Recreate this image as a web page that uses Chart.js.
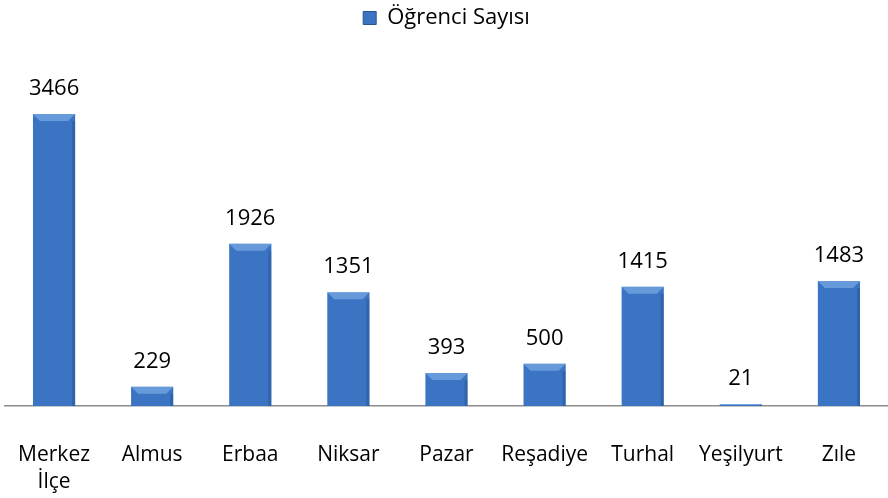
<!DOCTYPE html>
<html>
<head>
<meta charset="utf-8">
<script src="https://cdn.jsdelivr.net/npm/chart.js@4"></script>
<style>
  html, body { margin: 0; padding: 0; background: #fff; }
  #wrap { width: 888px; height: 498px; }
</style>
</head>
<body>
<div id="wrap"><canvas id="c" width="888" height="498"></canvas></div>
<script>
// veriler
const categories = [['Merkez', 'İlçe'], 'Almus', 'Erbaa', 'Niksar', 'Pazar', 'Reşadiye', 'Turhal', 'Yeşilyurt', 'Zıle'];
const ogrenciSayisi = [3466, 229, 1926, 1351, 393, 500, 1415, 21, 1483];
const seriesName = 'Öğrenci Sayısı';

const FONT = "'Open Sans', 'Liberation Sans', sans-serif";

/**
 * Sütun için yatay gradyan
 */
function barGradient(ctx) {
    const el = ctx.element;
    const chart = ctx.chart;
    if (!el || !chart.chartArea || !isFinite(el.x) || !isFinite(el.width)) return '#3a74c2';
    const w = el.width;
    const g = chart.ctx.createLinearGradient(el.x - w / 2, 0, el.x + w / 2, 0);
    g.addColorStop(0, '#2b5797');
    g.addColorStop(0.45, '#3d7acb');
    g.addColorStop(0.6, '#3b78c8');
    g.addColorStop(1, '#2a5493');
    return g;
}

// değer etiketleri
const valueLabels = {
    id: 'valueLabels',
    afterDatasetsDraw(chart) {
        const ctx = chart.ctx;
        const meta = chart.getDatasetMeta(0);
        ctx.save();
        ctx.font = '22px ' + FONT;
        ctx.fillStyle = '#000';
        ctx.textAlign = 'center';
        ctx.textBaseline = 'middle';
        meta.data.forEach((bar, i) => {
            ctx.fillText(String(ogrenciSayisi[i]), bar.x, bar.y - 25);
        });
        ctx.restore();
    }
};

// üst kenar kabartması
const bevel = {
    id: 'bevel',
    afterDatasetsDraw(chart) {
        const ctx = chart.ctx;
        const meta = chart.getDatasetMeta(0);
        ctx.save();
        meta.data.forEach(bar => {
            const l = bar.x - bar.width / 2, r = bar.x + bar.width / 2;
            const t = bar.y, h = bar.base - bar.y;
            const d = Math.min(7, h / 2);
            ctx.fillStyle = 'rgba(140,185,240,0.55)';
            ctx.beginPath();
            ctx.moveTo(l, t); ctx.lineTo(r, t); ctx.lineTo(r - d, t + d); ctx.lineTo(l + d, t + d);
            ctx.closePath(); ctx.fill();
            ctx.fillStyle = 'rgba(20,50,100,0.25)';
            ctx.fillRect(r - 3, t + d, 3, h - d);
        });
        ctx.restore();
    }
};

new Chart(document.getElementById('c'), {
    type: 'bar',
    data: {
        labels: categories,
        datasets: [{
            label: seriesName,
            data: ogrenciSayisi,
            backgroundColor: barGradient,
            borderWidth: 0,
            barPercentage: 0.43,
            categoryPercentage: 1
        }]
    },
    options: {
        responsive: false,
        animation: false,
        layout: { padding: { left: 5, right: 0, top: 0, bottom: 0 } },
        plugins: {
            legend: {
                position: 'top',
                labels: {
                    font: { family: FONT, size: 22 },
                    color: '#000',
                    boxWidth: 13,
                    boxHeight: 13,
                    padding: 7,
                    generateLabels() {
                        return [{ text: seriesName, fillStyle: '#3a74c2', strokeStyle: '#2a5493', lineWidth: 1, datasetIndex: 0 }];
                    }
                }
            },
            tooltip: { enabled: false }
        },
        scales: {
            y: {
                display: false,
                min: 0,
                max: 4355
            },
            x: {
                grid: { display: false, drawTicks: false },
                border: { display: true, color: '#8c8c8c', width: 1.5 },
                ticks: {
                    font: { family: FONT, size: 21, lineHeight: 1.3 },
                    color: '#000',
                    padding: 35,
                    maxRotation: 0,
                    autoSkip: false
                },
                afterFit(scale) {
                    scale.height = 92;
                    scale.paddingLeft = 0;
                    scale.paddingRight = 0;
                }
            }
        }
    },
    plugins: [valueLabels, bevel]
});
</script>
</body>
</html>
